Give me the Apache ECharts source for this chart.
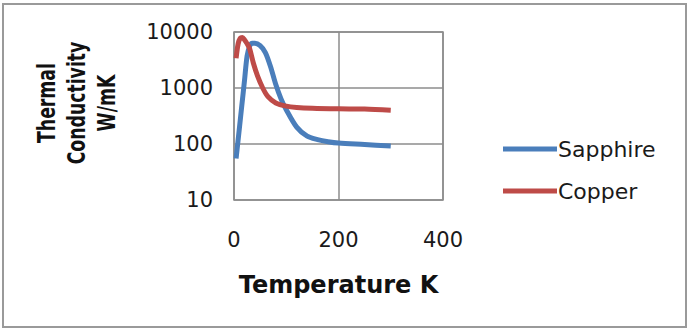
<!DOCTYPE html>
<html>
<head>
<meta charset="utf-8">
<script src="https://cdn.jsdelivr.net/npm/echarts@6/dist/echarts.min.js"></script>
<style>
  html, body { margin: 0; padding: 0; background: #fff; }
  #chart { width: 690px; height: 333px; }
</style>
</head>
<body>
<div id="chart"></div>
<script>
// Thermal conductivity vs temperature (log scale)
const sapphireTemp = [4, 10, 15, 20, 25, 30, 35, 40, 50, 60, 70, 80, 90, 100, 120, 140, 160, 180, 200, 250, 300];
const sapphireK    = [55, 180, 490, 1330, 3700, 5600, 6300, 6300, 5700, 4300, 2400, 1150, 640, 410, 200, 138, 120, 110, 104, 98, 92];

const copperTemp = [4, 8, 12, 16, 20, 25, 30, 37, 45, 55, 65, 80, 100, 120, 150, 200, 250, 300];
const copperK    = [3400, 6200, 7800, 8000, 7300, 6200, 5000, 2800, 1650, 1000, 700, 540, 475, 450, 435, 425, 420, 400];

const xTicks = [0, 200, 400];
const yTicks = [10, 100, 1000, 10000];

const seriesNames = ['Sapphire', 'Copper'];
const seriesColors = ['#4a7ebb', '#be4b48'];

const FONT = '"DejaVu Sans", Verdana, sans-serif';
const GRID_COLOR = '#8c8c8c';

function pairs(xs, ys) {
  return xs.map((x, i) => [x, ys[i]]);
}

const chart = echarts.init(document.getElementById('chart'), null, { renderer: 'svg' });

chart.setOption({
  animation: false,
  backgroundColor: '#ffffff',
  grid: {
    left: 234, right: 247, top: 32, bottom: 133,
    show: true, borderColor: GRID_COLOR, borderWidth: 1.5
  },
  xAxis: {
    type: 'value',
    min: xTicks[0], max: xTicks[xTicks.length - 1], interval: xTicks[1] - xTicks[0],
    axisLine: { show: false },
    axisTick: { show: false },
    splitLine: { show: true, lineStyle: { color: GRID_COLOR, width: 1.5 } },
    axisLabel: { fontFamily: FONT, fontSize: 21, color: '#1a1a1a', margin: 29 },
    name: 'Temperature K',
    nameLocation: 'middle',
    nameGap: 73,
    nameTextStyle: { fontFamily: FONT, fontSize: 24, fontWeight: 'bold', color: '#111' }
  },
  yAxis: {
    type: 'log',
    logBase: 10,
    min: yTicks[0], max: yTicks[yTicks.length - 1],
    axisLine: { show: false },
    axisTick: { show: false },
    splitLine: { show: true, lineStyle: { color: GRID_COLOR, width: 1.5 } },
    axisLabel: {
      fontFamily: FONT, fontSize: 21, color: '#1a1a1a', margin: 21,
      formatter: v => String(Math.round(v))
    }
  },
  legend: {
    orient: 'vertical',
    left: 498, top: 132,
    itemWidth: 54, itemHeight: 5, itemGap: 18,
    icon: 'rect',
    textStyle: { fontFamily: FONT, fontSize: 22, color: '#1a1a1a', lineHeight: 24, padding: [0, 0, 0, -4] },
    data: seriesNames
  },
  graphic: [
    {
      type: 'rect',
      shape: { x: 3, y: 4, width: 683, height: 323 },
      style: { fill: 'none', stroke: '#9a9a9a', lineWidth: 2 },
      silent: true
    },
    {
      type: 'text',
      x: 77, y: 103,
      rotation: Math.PI / 2,
      scaleX: 0.72,
      style: {
        text: 'Thermal\nConductivity\nW/mK',
        font: 'bold 24px ' + FONT,
        fill: '#111',
        align: 'center',
        verticalAlign: 'middle',
        lineHeight: 30
      }
    }
  ],
  series: [
    {
      name: seriesNames[0],
      type: 'line',
      data: pairs(sapphireTemp, sapphireK),
      smooth: 0.3,
      showSymbol: false,
      lineStyle: { color: seriesColors[0], width: 5 },
      itemStyle: { color: seriesColors[0] }
    },
    {
      name: seriesNames[1],
      type: 'line',
      data: pairs(copperTemp, copperK),
      smooth: 0.3,
      showSymbol: false,
      lineStyle: { color: seriesColors[1], width: 5 },
      itemStyle: { color: seriesColors[1] }
    }
  ]
});
</script>
</body>
</html>
